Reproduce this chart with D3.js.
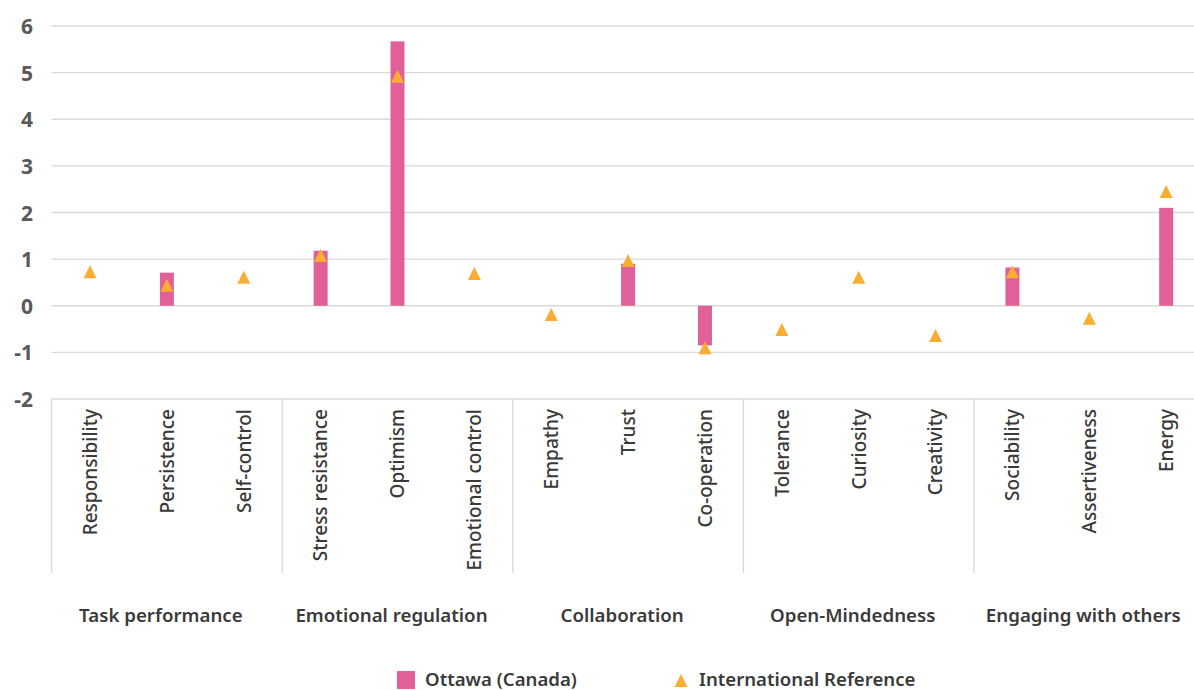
<!DOCTYPE html>
<html>
<head>
<meta charset="utf-8">
<script src="https://cdn.jsdelivr.net/npm/d3@7"></script>
<style>
  html, body { margin: 0; padding: 0; background: #fff; }
  svg { display: block; font-family: "Noto Sans", "Open Sans", sans-serif; }
</style>
</head>
<body>
<svg id="chart" width="1194" height="690"></svg>
<script>
// Skill categories, in display order
const categories = [
  "Responsibility", "Persistence", "Self-control",
  "Stress resistance", "Optimism", "Emotional control",
  "Empathy", "Trust", "Co-operation",
  "Tolerance", "Curiosity", "Creativity",
  "Sociability", "Assertiveness", "Energy"
];

// Domain groups, each spanning three consecutive categories
const groups = [
  "Task performance", "Emotional regulation", "Collaboration",
  "Open-Mindedness", "Engaging with others"
];
const groupSize = 3;

// Ottawa (Canada): null where no value is reported
const ottawaValues = [
  null, 0.71, null,
  1.18, 5.67, null,
  null, 0.90, -0.85,
  null, null, null,
  0.82, null, 2.10
];

// International Reference
const internationalValues = [
  0.73, 0.44, 0.61,
  1.08, 4.92, 0.69,
  -0.19, 0.97, -0.90,
  -0.51, 0.61, -0.64,
  0.73, -0.27, 2.45
];

const yTicks = [-2, -1, 0, 1, 2, 3, 4, 5, 6];

const seriesNames = ["Ottawa (Canada)", "International Reference"];

const barColor = "#E2609A";
const markerColor = "#F9AE32";
const gridColor = "#DADADA";
const textColor = "#3A3A3A";

const svg = d3.select("#chart");
const W = 1194, H = 690;

const x = d3.scaleBand()
  .domain(categories)
  .range([51.6, 1204.6])
  .paddingInner(0)
  .paddingOuter(0);

const y = d3.scaleLinear()
  .domain([-2, 6])
  .range([399, 26]);

const plotLeft = x.range()[0];

// Horizontal gridlines
svg.append("g")
  .selectAll("line")
  .data(yTicks)
  .join("line")
  .attr("x1", plotLeft)
  .attr("x2", W)
  .attr("y1", d => y(d))
  .attr("y2", d => y(d))
  .attr("stroke", gridColor)
  .attr("stroke-width", 1.4);

// Y axis labels (plain hyphen for negatives)
const yAxis = d3.axisLeft(y).tickValues(yTicks).tickSize(0).tickPadding(0).tickFormat(d => String(d));
const yAxisG = svg.append("g")
  .attr("transform", "translate(33,0)")
  .call(yAxis);
yAxisG.select(".domain").remove();
yAxisG.selectAll("text")
  .attr("fill", "#595959")
  .attr("font-size", 21)
  .attr("font-weight", 700)
  .attr("font-family", "'Noto Sans', sans-serif")
  .attr("dy", "0.36em");

// Group separators below the axis
const axisY = y(-2);
const sepBottom = 573;
const groupBounds = groups.map((g, i) => {
  const first = categories[i * groupSize];
  const last = categories[i * groupSize + groupSize - 1];
  return { name: g, x0: x(first), x1: x(last) + x.bandwidth() };
});

svg.append("g")
  .selectAll("line")
  .data(groupBounds)
  .join("line")
  .attr("x1", d => d.x0)
  .attr("x2", d => d.x0)
  .attr("y1", axisY)
  .attr("y2", sepBottom)
  .attr("stroke", gridColor)
  .attr("stroke-width", 1.4);

// Category labels, rotated
svg.append("g")
  .selectAll("text")
  .data(categories)
  .join("text")
  .attr("transform", d => `translate(${x(d) + x.bandwidth() / 2},409) rotate(-90)`)
  .attr("text-anchor", "end")
  .attr("dy", "0.36em")
  .attr("font-size", 19)
  .attr("font-weight", 500)
  .attr("fill", textColor)
  .text(d => d);

// Group labels
svg.append("g")
  .selectAll("text")
  .data(groupBounds)
  .join("text")
  .attr("x", d => (d.x0 + d.x1) / 2 - 6)
  .attr("y", 622)
  .attr("text-anchor", "middle")
  .attr("font-size", 18.7)
  .attr("font-weight", 600)
  .attr("fill", textColor)
  .text(d => d.name);

// Ottawa bars
const barWidth = 14;
svg.append("g")
  .selectAll("rect")
  .data(categories.map((c, i) => ({ c, v: ottawaValues[i] })).filter(d => d.v !== null))
  .join("rect")
  .attr("x", d => x(d.c) + x.bandwidth() / 2 - barWidth / 2)
  .attr("width", barWidth)
  .attr("y", d => Math.min(y(d.v), y(0)))
  .attr("height", d => Math.abs(y(d.v) - y(0)))
  .attr("fill", barColor);

// International Reference markers (triangles)
const tri = (cx, cy, w, h) =>
  `M${cx},${cy - h / 2}L${cx + w / 2},${cy + h / 2}L${cx - w / 2},${cy + h / 2}Z`;

svg.append("g")
  .selectAll("path")
  .data(categories.map((c, i) => ({ c, v: internationalValues[i] })))
  .join("path")
  .attr("d", d => tri(x(d.c) + x.bandwidth() / 2, y(d.v), 13, 13))
  .attr("fill", markerColor);

// Legend
const legend = svg.append("g").attr("font-size", 18.6).attr("font-weight", 600).attr("fill", textColor);
legend.append("rect")
  .attr("x", 397).attr("y", 671).attr("width", 18).attr("height", 18)
  .attr("fill", barColor);
legend.append("text")
  .attr("x", 425).attr("y", 685.5)
  .text(seriesNames[0]);
legend.append("path")
  .attr("d", tri(681, 680.5, 13, 13))
  .attr("fill", markerColor);
legend.append("text")
  .attr("x", 699).attr("y", 685.5)
  .text(seriesNames[1]);
</script>
</body>
</html>
